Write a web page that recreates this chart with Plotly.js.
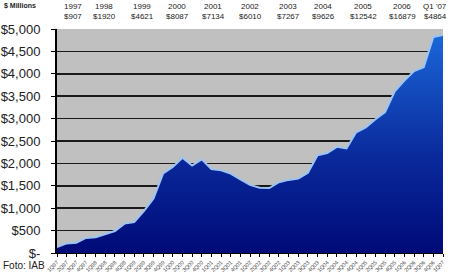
<!DOCTYPE html>
<html><head><meta charset="utf-8">
<script src="https://cdn.plot.ly/plotly-3.0.1.min.js"></script>
<style>html,body{margin:0;padding:0;background:#fff;}#c{width:450px;height:276px;}</style>
</head><body><div id="c"></div>
<script>
// Quarterly internet ad revenue, $ millions
const quarters = ["1Q97","2Q97","3Q97","4Q97","1Q98","2Q98","3Q98","4Q98","1Q99","2Q99","3Q99","4Q99",
  "1Q00","2Q00","3Q00","4Q00","1Q01","2Q01","3Q01","4Q01","1Q02","2Q02","3Q02","4Q02",
  "1Q03","2Q03","3Q03","4Q03","1Q04","2Q04","3Q04","4Q04","1Q05","2Q05","3Q05","4Q05",
  "1Q06","2Q06","3Q06","4Q06","1Q07"];
const revenue = [130,214,227,336, 351,423,491,656, 693,934,1217,1777,
  1922,2124,1951,2090, 1872,1848,1773,1641, 1520,1458,1451,1580,
  1632,1660,1793,2182, 2230,2369,2333,2694, 2802,2985,3147,3608,
  3848,4061,4147,4823, 4864];
const years = ["1997","1998","1999","2000","2001","2002","2003","2004","2005","2006","Q1 '07"];
const yearTotals = ["$907","$1920","$4621","$8087","$7134","$6010","$7267","$9626","$12542","$16879","$4864"];
const yTickVals = [0,500,1000,1500,2000,2500,3000,3500,4000,4500,5000];
const yTickText = ["$-","$500","$1,000","$1,500","$2,000","$2,500","$3,000","$3,500","$4,000","$4,500","$5,000"];

// header label pixel centres (layout only)
const headerPx = [73,104,142,177,213,250,288,323,363,402,435];

const W = 450, H = 276;
const M = {l:57, r:7, t:29, b:23};
const PW = W - M.l - M.r, PH = H - M.t - M.b;
const px = x => (x - M.l) / PW;
const py = y => (H - M.b - y) / PH;
const F = 'Liberation Sans, Arial';
const ann = [];
years.forEach((y,i)=>{
  ann.push({text:y, x:px(headerPx[i]), y:py(6), xref:'paper', yref:'paper', xanchor:'center', yanchor:'middle',
    showarrow:false, font:{family:F, size:8, color:'#222'}});
  ann.push({text:yearTotals[i], x:px(headerPx[i]), y:py(17), xref:'paper', yref:'paper', xanchor:'center', yanchor:'middle',
    showarrow:false, font:{family:F, size:8, color:'#222'}});
});
ann.push({text:'<b>$ Millions</b>', x:px(2), y:py(6), xref:'paper', yref:'paper', xanchor:'left', yanchor:'middle',
  showarrow:false, font:{family:F, size:7, color:'#222'}});
ann.push({text:'Foto: IAB', x:px(1), y:py(265), xref:'paper', yref:'paper', xanchor:'left', yanchor:'middle',
  showarrow:false, font:{family:F, size:10, color:'#222'}});

const trace = {
  x: quarters, y: revenue, type:'scatter', mode:'lines', fill:'tozeroy',
  line:{color:'#9cc4f2', width:2, shape:'linear'},
  fillgradient:{type:'vertical', colorscale:[[0,'#000a78'],[0.45,'#0a2a9c'],[1,'#1a66d8']]},
  hoverinfo:'skip'
};

const layout = {
  width:W, height:H,
  margin:{l:M.l, r:M.r, t:M.t, b:M.b, pad:0},
  paper_bgcolor:'#ffffff', plot_bgcolor:'#c0c0c0',
  showlegend:false,
  annotations: ann,
  xaxis:{type:'category', range:[0, quarters.length-1], showgrid:false, zeroline:false,
    ticks:'outside', ticklen:3, tickcolor:'#000', tickwidth:1,
    tickangle:-45, tickfont:{family:F, size:5.5, color:'#444'},
    showline:true, linecolor:'#000', linewidth:1, automargin:false},
  yaxis:{range:[0,5000], tickvals:yTickVals, ticktext:yTickText, showgrid:true,
    gridcolor:'#1a1a1a', gridwidth:1.5, zeroline:false,
    ticks:'outside', ticklen:4, tickcolor:'#000', ticklabelstandoff:8,
    tickfont:{family:F, size:13, color:'#222'},
    showline:true, linecolor:'#000', linewidth:2, automargin:false}
};

Plotly.newPlot('c',[trace],layout,{displayModeBar:false, staticPlot:true});
</script></body></html>
